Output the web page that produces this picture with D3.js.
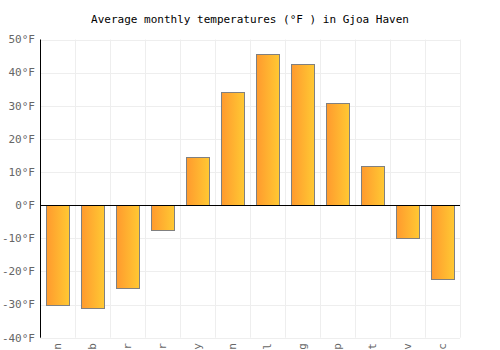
<!DOCTYPE html>
<html><head><meta charset="utf-8">
<script src="https://cdn.jsdelivr.net/npm/d3@7"></script>
<style>body{margin:0;background:#fff}svg{display:block}</style>
</head><body><svg id="c" width="500" height="350"></svg>
<script>
const months = ["Jan","Feb","Mar","Apr","May","Jun","Jul","Aug","Sep","Oct","Nov","Dec"];
const temps = [-30.3,-31.0,-24.9,-7.6,14.5,34.1,45.6,42.6,30.8,11.8,-10.1,-22.2];
const yTicks = [-40,-30,-20,-10,0,10,20,30,40,50];
const title = "Average monthly temperatures (°F ) in Gjoa Haven";

const svg = d3.select("#c");
const L=40,R=460,T=39.5,B=337.7;
const font = "'DejaVu Sans Mono', monospace";
const x = d3.scaleBand().domain(months).range([L,R]).paddingInner(12/35).paddingOuter(6/35);
const xb = d3.scaleBand().domain(months).range([L,R]);
const y = d3.scaleLinear().domain([-40,50]).range([B,T]);

const defs = svg.append("defs");
const g = defs.append("linearGradient").attr("id","grad").attr("x1","0").attr("x2","1").attr("y1","0").attr("y2","0");
g.append("stop").attr("offset","0").attr("stop-color","#ff9a2e");
g.append("stop").attr("offset","1").attr("stop-color","#ffc933");

// grid
svg.append("g").selectAll("line.h").data(yTicks).join("line")
  .attr("x1",L).attr("x2",R).attr("y1",d=>Math.round(y(d))+0.5).attr("y2",d=>Math.round(y(d))+0.5)
  .attr("stroke","#eeeeee");
svg.append("g").selectAll("line.v").data(months.concat(["end"])).join("line")
  .attr("x1",(d,i)=>Math.round(L+i*xb.step())+0.5).attr("x2",(d,i)=>Math.round(L+i*xb.step())+0.5)
  .attr("y1",T).attr("y2",B).attr("stroke","#eeeeee");

// bars
svg.append("g").selectAll("rect").data(temps).join("rect")
  .attr("x",(d,i)=>Math.round(x(months[i]))+0.5)
  .attr("width",Math.round(x.bandwidth()))
  .attr("y",d=>Math.round(y(Math.max(0,d)))+0.5)
  .attr("height",d=>Math.round(Math.abs(y(d)-y(0))))
  .attr("fill","url(#grad)").attr("stroke","#808080").attr("stroke-width",1);

// zero line & y axis
svg.append("line").attr("x1",L).attr("x2",R).attr("y1",Math.round(y(0))+0.5).attr("y2",Math.round(y(0))+0.5).attr("stroke","#000");
svg.append("line").attr("x1",L+0.5).attr("x2",L+0.5).attr("y1",T).attr("y2",B).attr("stroke","#000");

// y labels
svg.append("g").selectAll("text").data(yTicks).join("text")
  .attr("x",35).attr("y",d=>y(d)).attr("dy","0.35em").attr("text-anchor","end")
  .attr("font-family",font).attr("font-size",11).attr("fill","#666")
  .text(d=>d+"°F");

// x labels
svg.append("g").selectAll("text").data(months).join("text")
  .attr("transform",d=>`translate(${xb(d)+xb.bandwidth()/2},343) rotate(-90)`)
  .attr("dy","0.35em").attr("text-anchor","end")
  .attr("font-family",font).attr("font-size",11).attr("fill","#666")
  .text(d=>d);

svg.append("text").attr("x",250).attr("y",23).attr("text-anchor","middle")
  .attr("font-family",font).attr("font-size",11).attr("fill","#000").text(title);
</script></body></html>
